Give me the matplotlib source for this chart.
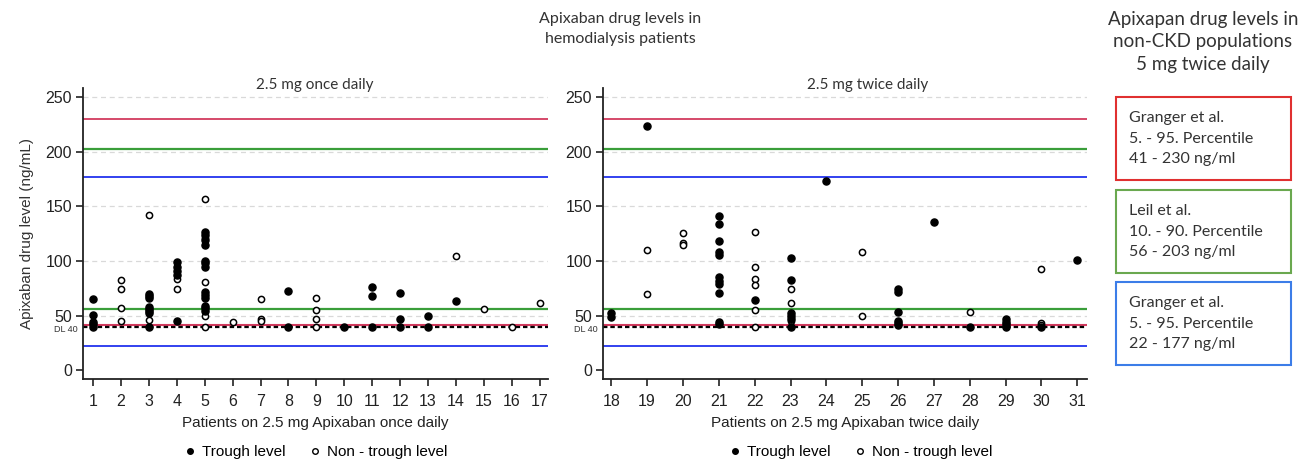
import matplotlib
matplotlib.use("Agg")
import matplotlib.pyplot as plt
from matplotlib.lines import Line2D
from matplotlib.patches import Rectangle

# Apixaban levels, 2.5 mg once daily (patients 1-17)
once_trough_pat = [1]*5 + [3]*8 + [4]*5 + [5]*13 + [8]*2 + [10] + [11]*3 + [12]*3 + [13]*2 + [14]
once_trough_val = [65, 51, 44, 42, 40,
                   70, 68, 66, 58, 56, 54, 52, 40,
                   99, 95, 91, 87, 45,
                   127, 124, 119, 115, 100, 98, 95, 72, 69, 66, 59, 57, 54,
                   73, 40,
                   40,
                   76, 68, 40,
                   71, 47, 40,
                   50, 40,
                   63]
once_non_pat = [2]*4 + [3]*2 + [4]*2 + [5]*5 + [6] + [7]*3 + [9]*4 + [14, 15, 16, 17]
once_non_val = [83, 74, 57, 45,
                142, 46,
                84, 74,
                157, 121, 81, 50, 40,
                44,
                65, 47, 45,
                66, 55, 47, 40,
                105, 56, 40, 62]

# Apixaban levels, 2.5 mg twice daily (patients 18-31)
twice_trough_pat = [18]*2 + [19] + [21]*11 + [22] + [23]*6 + [24] + [26]*6 + [27, 28] + [29]*4 + [30, 31]
twice_trough_val = [52, 49,
                    224,
                    141, 134, 118, 108, 106, 85, 82, 79, 71, 44, 42,
                    64,
                    103, 83, 52, 50, 47, 40,
                    173,
                    74, 72, 53, 45, 43, 41,
                    136, 40,
                    47, 44, 42, 40,
                    40, 101]
twice_non_pat = [19]*2 + [20]*3 + [22]*6 + [23]*3 + [25]*2 + [28] + [30]*3
twice_non_val = [110, 70,
                 126, 117, 115,
                 127, 95, 84, 78, 55, 40,
                 74, 62, 45,
                 108, 50,
                 53,
                 93, 43, 41]

# reference ranges in non-CKD populations (ng/ml)
granger_5_95 = (41, 230)
leil_10_90 = (56, 203)
granger_b = (22, 177)
detection_limit = 40

RED = '#D23A5E'
GREEN = '#3A9E3A'
BLUE = '#2233EE'

plt.rcParams['font.family'] = ['Liberation Sans', 'DejaVu Sans']

fig = plt.figure(figsize=(13.12, 4.66), dpi=100)
ax1 = fig.add_axes([83/1312, 1-379/466, 465/1312, 291/466])
ax2 = fig.add_axes([603/1312, 1-379/466, 484/1312, 291/466])


def draw_panel(ax, tp, tv, npat, nv, xlim, xticks, xlabel):
    for yy in [50, 100, 150, 200, 250]:
        ax.axhline(yy, color='#D9D9D9', lw=0.9, ls=(0, (4, 3)), zorder=0)
    ax.axhline(granger_5_95[1], color=RED, lw=1.3, zorder=1)
    ax.axhline(leil_10_90[1], color=GREEN, lw=1.6, zorder=1)
    ax.axhline(granger_b[1], color=BLUE, lw=1.3, zorder=1)
    ax.axhline(leil_10_90[0], color=GREEN, lw=1.6, zorder=1)
    ax.axhline(granger_5_95[0], color=RED, lw=1.5, zorder=1)
    ax.axhline(granger_b[0], color=BLUE, lw=1.3, zorder=1)
    ax.axhline(detection_limit, color='black', lw=1.6, ls=(0, (2, 1.3)), zorder=2)

    ax.scatter(npat, nv, s=20, facecolors='white', edgecolors='black', linewidths=1.1, zorder=3)
    ax.scatter(tp, tv, s=26, color='black', zorder=4)

    # detection limit label, kept just under the "50" tick label
    ax.text(-0.012, detection_limit + 1.5, 'DL 40', transform=ax.get_yaxis_transform(),
            ha='right', va='top', fontsize=6.5, color='#333333')

    ax.set_xlim(*xlim)
    ax.set_ylim(-8, 258.5)
    ax.set_xticks(xticks)
    ax.set_yticks([0, 50, 100, 150, 200, 250])
    ax.tick_params(axis='both', labelsize=11.5, length=5, width=1.2, colors='#222222')
    ax.tick_params(axis='x', pad=6)
    ax.tick_params(axis='y', pad=3)
    ax.spines['top'].set_visible(False)
    ax.spines['right'].set_visible(False)
    for s in ['left', 'bottom']:
        ax.spines[s].set_linewidth(1.3)
        ax.spines[s].set_color('#222222')
    ax.set_xlabel(xlabel, fontsize=11, color='#222222', labelpad=5)


draw_panel(ax1, once_trough_pat, once_trough_val, once_non_pat, once_non_val,
           (0.64, 17.3), range(1, 18), 'Patients on 2.5 mg Apixaban once daily')
draw_panel(ax2, twice_trough_pat, twice_trough_val, twice_non_pat, twice_non_val,
           (17.77, 31.27), range(18, 32), 'Patients on 2.5 mg Apixaban twice daily')
ax1.set_ylabel('Apixaban drug level (ng/mL)', fontsize=11, color='#333333', labelpad=8)

# legends below each panel
handles = [Line2D([], [], marker='o', ls='', color='black', markersize=4),
           Line2D([], [], marker='o', ls='', markerfacecolor='white', markeredgecolor='black',
                  markersize=4)]
for cx in [315/1312, 860/1312]:
    fig.legend(handles, ['Trough level', 'Non - trough level'], loc='center',
               bbox_to_anchor=(cx, 1-452/466), ncol=2, frameon=False, fontsize=11,
               handletextpad=0.3, columnspacing=1.4, handlelength=1)

# titles
tfont = ['Lato', 'DejaVu Sans']
fig.text(315/1312, 1-85/466, '2.5 mg once daily', ha='center', va='center',
         fontsize=11, family=tfont, color='#333333')
fig.text(868/1312, 1-85/466, '2.5 mg twice daily', ha='center', va='center',
         fontsize=11, family=tfont, color='#333333')
fig.text(620/1312, 1-29/466, 'Apixaban drug levels in\nhemodialysis patients', ha='center',
         va='center', fontsize=11.5, family=tfont, color='#333333', linespacing=1.5)
fig.text(1203/1312, 1-42/466, 'Apixapan drug levels in\nnon-CKD populations\n5 mg twice daily',
         ha='center', va='center', fontsize=13.5, family=tfont, color='#333333',
         linespacing=1.4)

# reference range boxes
boxes = [('#E03030', 'Granger et al.\n5. - 95. Percentile\n%d - %d ng/ml' % granger_5_95, 97),
         ('#6AA84F', 'Leil et al.\n10. - 90. Percentile\n%d - %d ng/ml' % leil_10_90, 190),
         ('#3C7DE8', 'Granger et al.\n5. - 95. Percentile\n%d - %d ng/ml' % granger_b, 282)]
for col, txt, top in boxes:
    fig.add_artist(Rectangle((1116/1312, 1-(top+83)/466), 175/1312, 83/466,
                             transform=fig.transFigure, fill=False, edgecolor=col, lw=1.5))
    fig.text(1129/1312, 1-(top+41.5)/466, txt, ha='left', va='center', fontsize=11.5,
             family=tfont, color='#333333', linespacing=1.55)

fig.savefig('out.png', dpi=100)
